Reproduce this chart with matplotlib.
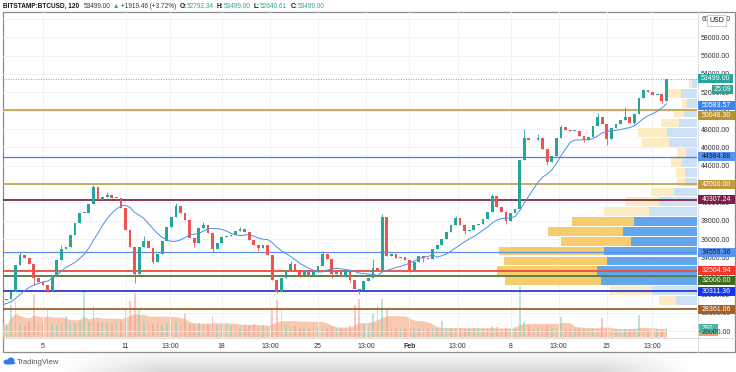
import numpy as np
import pandas as pd
import matplotlib
matplotlib.use("Agg")
import matplotlib.pyplot as plt
from matplotlib.patches import Rectangle, Ellipse
from matplotlib.lines import Line2D
from matplotlib.transforms import blended_transform_factory

plt.rcParams["font.family"] = ["Liberation Sans", "DejaVu Sans"]

# ---- data (BTCUSD, 8h candles from Jan 2 00:00) ----
prior_closes = [27500, 28200, 28700, 28900, 28950, 29100, 28800, 29200, 29000, 29350, 28900]
closes = [
    29380, 29500, 30200, 33200, 34280, 34000, 33300, 31800, 31300, 31000,
    30400, 32100, 33700, 34900, 35100, 36500, 37800, 38900, 38900, 39800,
    41700, 40300, 40600, 40800, 40500, 40500, 39400, 37000, 35150, 32200,
    35200, 35800, 35000, 33500, 34400, 35800, 37300, 38400, 39600, 38800,
    38090, 36100, 35600, 37200, 37600, 36700, 34900, 35600, 36200, 36400,
    36500, 36900, 37100, 36800, 35900, 35400, 35000, 35400, 34300, 31600,
    30300, 31800, 32700, 33300, 32700, 32150, 32600, 32150, 32500, 33100,
    34400, 33800, 32200, 32400, 31900, 32600, 31600, 30600, 30500, 31450,
    31800, 32900, 32700, 38400, 34200, 34400, 33900, 34100, 33700, 32600,
    33500, 34200, 33900, 33800, 34900, 35350, 36000, 36800, 37600, 38300,
    37600, 36850, 36950, 37600, 37700, 38200, 39000, 40700, 39500, 39000,
    38000, 38850, 39300, 44600, 47000, 46770, 46800, 47000, 45800, 44400,
    45100, 47000, 48200, 47900, 47800, 47800, 47200, 46850, 47100, 48300,
    49300, 48500, 46900, 48100, 48500, 48950, 49300, 48700, 49600, 51400,
    52250, 52000, 51750, 51800, 51100, 53499,
]
hi_idx = [4, 13, 20, 23, 31, 38, 44, 52, 63, 70, 81, 83, 99, 107, 114, 117, 122, 130, 136, 140]
hi_val = [34600, 35400, 41950, 41100, 36300, 39900, 37900, 37300, 33600, 34700,
          33800, 38700, 38500, 40950, 48000, 47500, 48400, 49750, 50350, 52400]
lo_idx = [7, 10, 29, 33, 42, 46, 56, 60, 65, 72, 76, 78, 89, 92, 101, 110, 119, 127, 132, 138, 144]
lo_val = [31000, 30200, 31200, 33300, 35100, 34600, 34700, 30100, 31900, 31800, 31300,
          30050, 32400, 33500, 36600, 37700, 44100, 46600, 46300, 48500, 50800]

volumes = [
    16, 14, 38, 42, 15, 13, 17, 50, 14, 16,
    32, 15, 14, 17, 24, 16, 15, 18, 55, 17,
    36, 18, 16, 17, 15, 17, 19, 33, 42, 52,
    33, 18, 16, 15, 17, 14, 16, 15, 17, 14,
    28, 15, 14, 16, 14, 15, 24, 13, 14, 15,
    13, 14, 12, 14, 13, 15, 12, 14, 13, 33,
    43, 32, 14, 12, 13, 11, 12, 11, 12, 13,
    12, 11, 12, 11, 10, 12, 13, 38, 45, 14,
    12, 28, 37, 45, 33, 12, 11, 10, 11, 10,
    11, 10, 9, 10, 11, 10, 19, 11, 10, 11,
    10, 9, 10, 11, 10, 9, 11, 13, 12, 10,
    11, 10, 12, 60, 18, 13, 11, 10, 12, 13,
    11, 10, 23, 10, 9, 9, 10, 9, 8, 9,
    9, 22, 10, 8, 9, 8, 9, 8, 9, 26,
    9, 8, 8, 9, 8, 10,
]

# visible-range volume profile, 24 rows bottom -> top
vp_low, vp_high = 27734, 53499
vp_down = [0, 17, 42, 96, 100, 103, 105, 70, 75, 62, 45, 33, 23, 8, 9, 11, 9, 27, 29, 18, 10, 5, 14, 3]
vp_up = [0, 21, 45, 96, 100, 90, 93, 66, 74, 63, 48, 38, 23, 12, 12, 15, 11, 28, 30, 18, 13, 10, 16, 5]
va_rows = (3, 9)

levels = [50048.30, 44984.88, 42000.00, 40307.24, 34559.36, 32564.94, 32000.00, 30311.36, 28361.06]
level_line = ["#c6a550", "#4a7fe0", "#c4a455", "#7d2a48", "#5b8fe6", "#ef4b3b", "#4e7a3a", "#2a3bd0", "#a0612c"]
level_tag = ["#b8922f", "#5a93ee", "#c09a3c", "#7a1f45", "#5a93ee", "#f0362b", "#3d6b21", "#1436f0", "#a45f23"]
level_fg = ["white", "#131722", "white", "white", "#131722", "white", "white", "white", "white"]
level_lw = [1.3, 0.9, 1.3, 1.3, 0.9, 1.3, 1.3, 1.3, 1.3]
level_shift = [5, 0, 0, 0, 0, 0, 5, 0, 0]  # tag pushed down (px) where tags collide

ma_value = 50583.57
xtick_days = [5, 11, 14.25, 18, 21.5, 25, 28.5, 31.65, 35.15, 39, 42.5, 46, 49.3]
xtick_labels = ["5", "11", "13:00", "18", "13:00", "25", "13:00", "Feb", "13:00", "8", "13:00", "15", "13:00"]

UP, DOWN = "#26a69a", "#ef5350"
W, H = 736, 372
Y_MIN, Y_MAX = 25350, 60743
X_MIN, X_MAX = 2.09, 52.56


def fx(px):
    return px / W


def fy(py):
    return 1 - py / H


fig = plt.figure(figsize=(W / 100, H / 100), dpi=100)
fig.patch.set_facecolor("white")
rect = [fx(3), fy(337), fx(697) - fx(3), fy(12) - fy(337)]
vax = fig.add_axes(rect, zorder=1)
ax = fig.add_axes(rect, zorder=2)
ax.patch.set_visible(False)

n = len(closes)
x = 2 + np.arange(n) / 3.0
c = np.array(closes, dtype=float)
o = np.array([prior_closes[-1]] + closes[:-1], dtype=float)
hi = np.maximum(o, c)
lo = np.minimum(o, c)
hi[hi_idx] = np.maximum(hi[hi_idx], hi_val)
lo[lo_idx] = np.minimum(lo[lo_idx], lo_val)
up = c >= o
col = np.where(up, UP, DOWN)

# volume pane (bottom)
vol = np.array(volumes, dtype=float)
vol_ma = pd.Series(vol).rolling(12, min_periods=1).mean().to_numpy()
vax.fill_between(x, 0, vol_ma, color="#f6bd9b", alpha=0.8, lw=0)
vax.bar(x, vol, width=0.12, color=np.where(up, "#7fcfc4", "#f29a9a"), alpha=0.55, lw=0)
vax.set_xlim(X_MIN, X_MAX)
vax.set_ylim(0, 380)
vax.axis("off")

# grid / axes
ax.set_xlim(X_MIN, X_MAX)
ax.set_ylim(Y_MIN, Y_MAX)
yt = np.arange(26000, 60001, 2000)
ax.set_yticks(yt)
ax.set_yticklabels([f"{v:.2f}" for v in yt])
ax.yaxis.tick_right()
ax.tick_params(axis="y", length=0, pad=3, labelsize=5, labelcolor="#333333")
ax.set_xticks(xtick_days)
ax.set_xticklabels(xtick_labels)
ax.tick_params(axis="x", length=0, pad=4, labelsize=5, labelcolor="#333333")
for lab in ax.get_xticklabels():
    if lab.get_text() == "Feb":
        lab.set_fontweight("bold")
ax.grid(color="#eef0f4", lw=0.6)
for s in ax.spines.values():
    s.set_visible(False)

# volume profile, anchored on the right edge
tr = blended_transform_factory(ax.transAxes, ax.transData)
edges = np.linspace(vp_low, vp_high, len(vp_up) + 1)
row_h = edges[1] - edges[0]
scale = 0.288 / max(u + d for u, d in zip(vp_up, vp_down))
for k, (d, u) in enumerate(zip(vp_down, vp_up)):
    in_va = va_rows[0] <= k <= va_rows[1]
    cb = "#64a5eb" if in_va else "#cde1f5"
    cy = "#f5cd6e" if in_va else "#fcebc3"
    y0 = edges[k] + row_h * 0.06
    ax.add_patch(Rectangle((1 - u * scale, y0), u * scale, row_h * 0.88,
                           transform=tr, facecolor=cb, lw=0, zorder=3))
    ax.add_patch(Rectangle((1 - (u + d) * scale, y0), d * scale, row_h * 0.88,
                           transform=tr, facecolor=cy, lw=0, zorder=3))

# horizontal levels
for p, lc, lw in zip(levels, level_line, level_lw):
    ax.axhline(p, color=lc, lw=lw, zorder=7)
ax.axhline(closes[-1], color=UP, lw=0.6, ls=(0, (1, 2)), zorder=6)

# candles + moving average
body_lo = np.minimum(o, c)
ax.vlines(x, lo, hi, colors=col, lw=0.6, zorder=8)
ax.bar(x, np.maximum(np.abs(c - o), 80), bottom=body_lo, width=0.2, color=col, lw=0, zorder=9)
ma = pd.Series(prior_closes + closes).rolling(12, min_periods=1).mean().iloc[len(prior_closes):]
ax.plot(x, ma.to_numpy(), color="#4a8fe7", lw=0.7, zorder=9)

# price-scale tags
ppx = (Y_MAX - Y_MIN) / 325.0


def tag(axis, trans, yval, text, bg, fg="white", dy=0.0, x0=698, x1=735, h=9, per_px=ppx):
    xa0, xa1 = (x0 - 3) / 694, (x1 - 3) / 694
    yc = yval - dy * per_px
    axis.add_patch(Rectangle((xa0, yc - h / 2 * per_px), xa1 - xa0, h * per_px, transform=trans,
                             facecolor=bg, lw=0, clip_on=False, zorder=20))
    if text:
        axis.text((xa0 + xa1) / 2, yc, text, transform=trans, ha="center", va="center",
                  fontsize=5, color=fg, clip_on=False, zorder=21)


tag(ax, tr, closes[-1], f"{closes[-1]:.2f}", UP, x1=733)
tag(ax, tr, closes[-1], "25:09", UP, dy=11, x0=712, x1=733)
tag(ax, tr, ma_value, f"{ma_value:.2f}", "#3a86ee")
for p, bg, fg, sh in zip(levels, level_tag, level_fg, level_shift):
    tag(ax, tr, p, f"{p:.2f}", bg, fg, dy=sh)
vtr = blended_transform_factory(vax.transAxes, vax.transData)
vpx = 380 / 325.0
tag(vax, vtr, vol_ma[-1], "", "#f0a070", dy=5, x1=718, h=6, per_px=vpx)
tag(vax, vtr, vol[-1], "791", "#4fb3a5", x1=718, per_px=vpx)

# USD box
fig.add_artist(Rectangle((fx(707), fy(26)), fx(726) - fx(707), fy(15) - fy(26), transform=fig.transFigure,
                         facecolor="white", edgecolor="#b2b5be", lw=0.5, zorder=30))
fig.text(fx(716.5), fy(20.5), "USD", ha="center", va="center", fontsize=5, color="#131722", zorder=31)

# frame and separators
fig.add_artist(Rectangle((fx(3), fy(352)), fx(735) - fx(3), fy(12) - fy(352), transform=fig.transFigure,
                         fill=False, edgecolor="#8c8c8c", lw=0.9))
fig.add_artist(Line2D([fx(697.5)] * 2, [fy(12), fy(352)], color="#d6d8de", lw=0.6))
fig.add_artist(Line2D([fx(3), fx(735)], [fy(337.5)] * 2, color="#d6d8de", lw=0.6))

# header line
parts = [
    ("BITSTAMP:BTCUSD, 120", "#131722", "bold", 0),
    ("53499.00", "#333333", "normal", 3),
    ("\u25b2", UP, "normal", 1.5),
    ("+1919.46 (+3.72%)", "#333333", "normal", 1.5),
    ("O:", "#131722", "bold", 2.5), ("52792.34", UP, "normal", 0),
    ("H:", "#131722", "bold", 2.5), ("53499.00", UP, "normal", 0),
    ("L:", "#131722", "bold", 2.5), ("52640.61", UP, "normal", 0),
    ("C:", "#131722", "bold", 2.5), ("53499.00", UP, "normal", 0),
]
prev = None
for txt, colr, wt, gap in parts:
    if prev is None:
        prev = fig.text(fx(3), fy(6), txt, ha="left", va="center", fontsize=4.7, color=colr, fontweight=wt)
    else:
        prev = ax.annotate(txt, xy=(1, 0.5), xycoords=prev, xytext=(gap, 0), textcoords="offset points",
                           ha="left", va="center", fontsize=4.7, color=colr, fontweight=wt,
                           annotation_clip=False)

# bottom: page shadow + TradingView mark
sax = fig.add_axes([0, 0, 1, fy(353)], zorder=0)
sax.axis("off")
gx = np.clip(np.minimum((np.arange(W) - 60) / 100.0, (690 - np.arange(W)) / 90.0), 0, 1)
gy = np.linspace(0.2, 1, 20)[:, None]
img = np.zeros((20, W, 4))
img[..., :3] = 0.5
img[..., 3] = 0.3 * gx[None, :] * gy
sax.imshow(img, aspect="auto", extent=[0, 1, 0, 1], origin="upper")
sax.set_xlim(0, 1)
sax.set_ylim(0, 1)
for cx, cy, w, h in [(7, 362, 7, 5), (11, 360.5, 7, 6), (10, 363, 11, 3)]:
    fig.add_artist(Ellipse((fx(cx), fy(cy)), w / W, h / H, transform=fig.transFigure,
                           facecolor="#2f7ee6", lw=0))
fig.text(fx(17), fy(362), "TradingView", ha="left", va="center", fontsize=5.5, color="#50535e")

fig.savefig("out.png", dpi=100)
